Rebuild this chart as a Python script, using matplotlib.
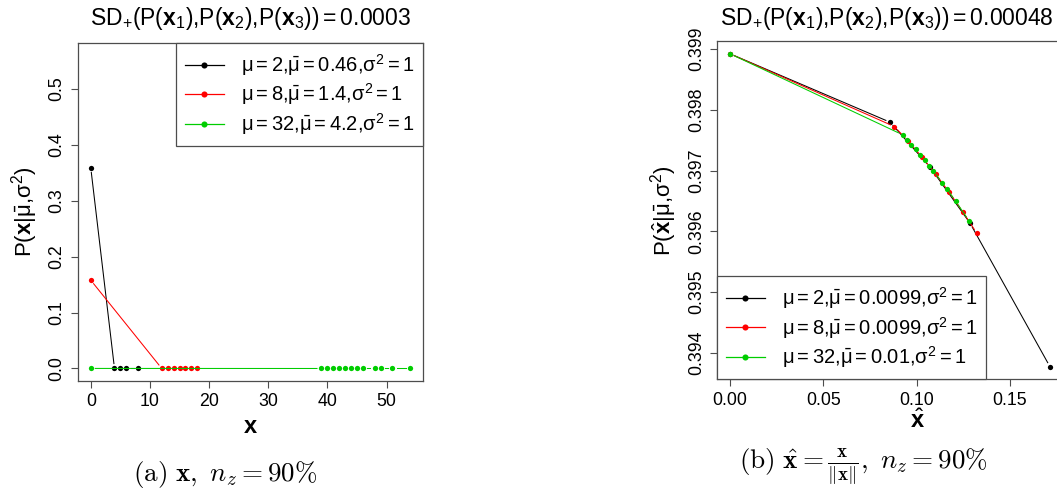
import numpy as np
import matplotlib
matplotlib.use("Agg")
import matplotlib.pyplot as plt
from matplotlib.lines import Line2D

# fonts: Helvetica-like for the R panels, Computer Modern for the captions
plt.rcParams['font.family'] = ['Liberation Sans', 'DejaVu Sans']
plt.rcParams['mathtext.fontset'] = 'custom'
plt.rcParams['mathtext.rm'] = 'Liberation Sans'
plt.rcParams['mathtext.it'] = 'Liberation Sans:italic'
plt.rcParams['mathtext.bf'] = 'Liberation Sans:bold'
plt.rcParams['mathtext.sf'] = 'Liberation Sans'

# ---- data, panel (a): raw x ----
a_x_black = [0, 4, 5, 6, 8]
a_y_black = [0.3589, 0.0008, 0.0, 0.0, 0.0]
a_x_red = [0, 12, 13, 14, 15, 16, 17, 18]
a_y_red = [0.158, 0, 0, 0, 0, 0, 0, 0]
a_x_green = [0, 39, 40, 41, 42, 43, 44, 45, 46, 48, 49, 51, 54]
a_y_green = [0.0001, 0, 0, 0, 0, 0, 0, 0, 0, 0, 0, 0, 0]

# ---- data, panel (b): normalised x ----
b_x_black = [0.0, 0.0857, 0.1071, 0.1286, 0.1714]
b_y_black = [0.398922, 0.397797, 0.397060, 0.396134, 0.393773]
b_x_red = [0.0, 0.0881, 0.0954, 0.1028, 0.1101, 0.1175, 0.1248, 0.1322]
b_y_red = [0.398922, 0.397724, 0.397486, 0.397225, 0.396945, 0.396640, 0.396317, 0.395970]
b_x_green = [0.0, 0.0924, 0.0948, 0.0972, 0.0995, 0.1019, 0.1043, 0.1067, 0.1090,
             0.1138, 0.1161, 0.1209, 0.1280]
b_y_green = [0.398922, 0.397590, 0.397510, 0.397427, 0.397347, 0.397261, 0.397172,
             0.397081, 0.396992, 0.396799, 0.396703, 0.396497, 0.396175]

a_labels = [r'$\mathrm{\mu = 2{,}\bar{\mu} = 0.46{,}\sigma^2 = 1}$',
            r'$\mathrm{\mu = 8{,}\bar{\mu} = 1.4{,}\sigma^2 = 1}$',
            r'$\mathrm{\mu = 32{,}\bar{\mu} = 4.2{,}\sigma^2 = 1}$']
b_labels = [r'$\mathrm{\mu = 2{,}\bar{\mu} = 0.0099{,}\sigma^2 = 1}$',
            r'$\mathrm{\mu = 8{,}\bar{\mu} = 0.0099{,}\sigma^2 = 1}$',
            r'$\mathrm{\mu = 32{,}\bar{\mu} = 0.01{,}\sigma^2 = 1}$']

colors = ['black', '#FF0000', '#00CD00']
frame_col = '#4d4d4d'

W, H = 1057, 495
fig = plt.figure(figsize=(W / 100, H / 100), dpi=100)


def px_axes(left, top, width, height):
    return fig.add_axes([left / W, 1 - (top + height) / H, width / W, height / H])


# R's type="b": line segments stop short of the points
def gap_line(ax, x, y, color, gap=4.5, lw=0.75):
    pts = ax.transData.transform(np.column_stack([x, y]))
    inv = ax.transData.inverted()
    for p0, p1 in zip(pts[:-1], pts[1:]):
        d = p1 - p0
        L = np.hypot(d[0], d[1])
        if L <= 2 * gap:
            continue
        u = d / L
        seg = inv.transform(np.array([p0 + u * gap, p1 - u * gap]))
        ax.plot(seg[:, 0], seg[:, 1], color=color, lw=lw, clip_on=True)


def style(ax):
    for s in ax.spines.values():
        s.set_color(frame_col)
        s.set_linewidth(0.9)
    ax.tick_params(direction='out', length=5, width=0.8, color=frame_col,
                   labelsize=12.8, pad=4)
    ax.tick_params(axis='y', labelrotation=90)
    for lab in ax.get_yticklabels():
        lab.set_va('center')


def draw_series(ax, xs, ys):
    for x, y, c in zip(xs, ys, colors):
        gap_line(ax, x, y, c)
        ax.plot(x, y, 'o', color=c, ms=3.8, mew=0, ls='none')


def add_legend(ax, labels, loc):
    handles = [Line2D([0], [0], color=c, lw=0.9, marker='o', ms=4.4, mew=0)
               for c in colors]
    leg = ax.legend(handles, labels, loc=loc, borderaxespad=0, fancybox=False,
                    fontsize=14.5, handlelength=1.9, handletextpad=0.85,
                    labelspacing=0.18, borderpad=0.45, framealpha=1, numpoints=1)
    leg.get_frame().set_edgecolor(frame_col)
    leg.get_frame().set_linewidth(0.9)


# ---- panel (a) ----
ax1 = px_axes(78, 43, 345, 338)
ax1.set_xlim(-2.16, 56.16)
ax1.set_ylim(-0.0224, 0.5824)
ax1.set_xticks([0, 10, 20, 30, 40, 50])
ax1.set_yticks([0.0, 0.1, 0.2, 0.3, 0.4, 0.5])
ax1.set_yticklabels(['0.0', '0.1', '0.2', '0.3', '0.4', '0.5'])
style(ax1)
draw_series(ax1, [a_x_black, a_x_red, a_x_green], [a_y_black, a_y_red, a_y_green])
add_legend(ax1, a_labels, 'upper right')

# ---- panel (b) ----
ax2 = px_axes(717.3, 41.3, 345.4, 338)
ax2.set_xlim(-0.006856, 0.178256)
ax2.set_ylim(0.393564, 0.399128)
ax2.set_xticks([0.0, 0.05, 0.10, 0.15])
ax2.set_xticklabels(['0.00', '0.05', '0.10', '0.15'])
ax2.set_yticks([0.394, 0.395, 0.396, 0.397, 0.398, 0.399])
ax2.set_yticklabels(['0.394', '0.395', '0.396', '0.397', '0.398', '0.399'])
style(ax2)
draw_series(ax2, [b_x_black, b_x_red, b_x_green], [b_y_black, b_y_red, b_y_green])
add_legend(ax2, b_labels, 'lower left')

# ---- titles, axis labels, captions ----
fig.text(250.5 / W, 1 - 18 / H,
         r'$\mathrm{SD_{+}(P(\mathbf{x}_1){,}P(\mathbf{x}_2){,}P(\mathbf{x}_3)) = 0.0003}$',
         ha='center', va='center', fontsize=16.5)
fig.text(887 / W, 1 - 18 / H,
         r'$\mathrm{SD_{+}(P(\mathbf{x}_1){,}P(\mathbf{x}_2){,}P(\mathbf{x}_3)) = 0.00048}$',
         ha='center', va='center', fontsize=16.5)

fig.text(250.5 / W, 1 - 427 / H, r'$\mathbf{x}$', ha='center', va='center', fontsize=17)
fig.text(917 / W, 1 - 421 / H, r'$\hat{\mathbf{x}}$', ha='center', va='center', fontsize=17)
fig.text(25 / W, 1 - 212 / H, r'$\mathrm{P(\mathbf{x}|\bar{\mu}{,}\sigma^2)}$',
         ha='center', va='center', rotation=90, fontsize=16)
fig.text(664 / W, 1 - 211 / H, r'$\mathrm{P(\hat{\mathbf{x}}|\bar{\mu}{,}\sigma^2)}$',
         ha='center', va='center', rotation=90, fontsize=16)

fig.text(225 / W, 1 - 474 / H, r'$\mathrm{(a)}\ \mathbf{x},\ n_z = 90\%$',
         ha='center', va='center', fontsize=19.5, math_fontfamily='cm')
fig.text(863 / W, 1 - 466 / H,
         r'$\mathrm{(b)}\ \hat{\mathbf{x}} = \frac{\mathbf{x}}{\Vert\mathbf{x}\Vert},\ n_z = 90\%$',
         ha='center', va='center', fontsize=19.5, math_fontfamily='cm')

fig.savefig('out.png', dpi=100)
